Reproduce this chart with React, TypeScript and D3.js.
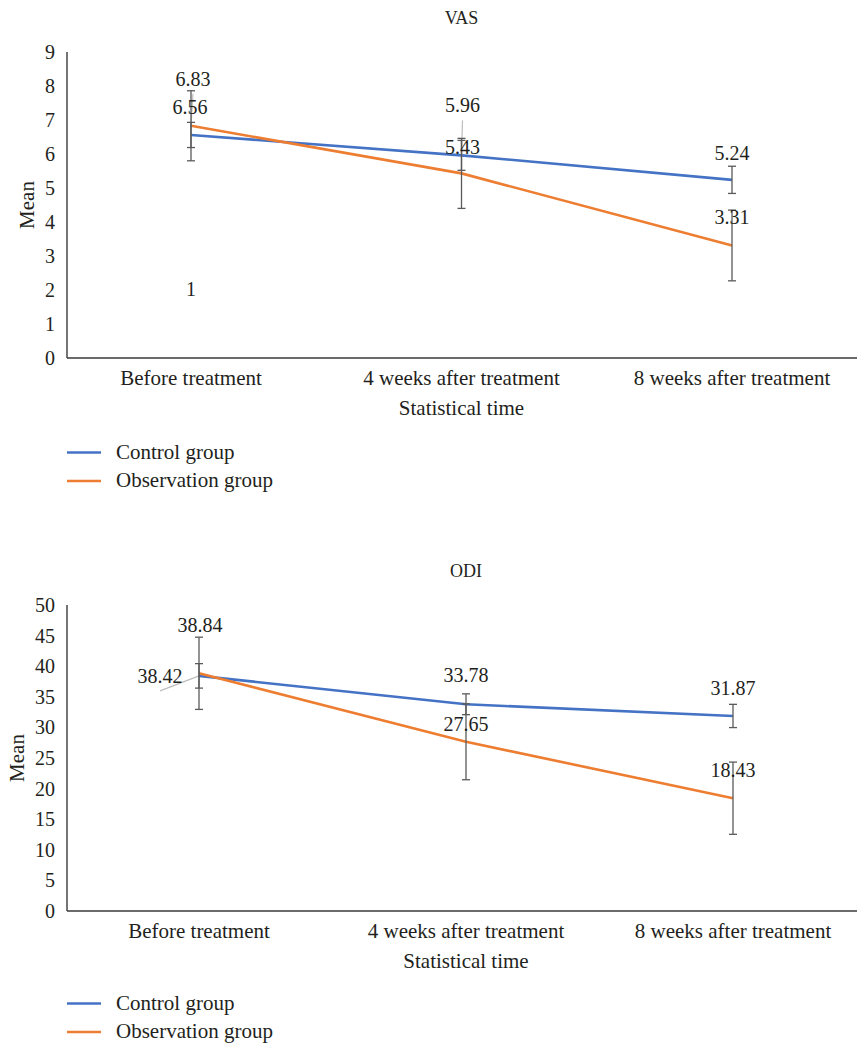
import React from "react";
import * as d3 from "d3";

const categories = ["Before treatment", "4 weeks after treatment", "8 weeks after treatment"];
const seriesNames = ["Control group", "Observation group"];
const seriesColors = ["#4472C4", "#ED7D31"];

// VAS
const vasControl = [6.56, 5.96, 5.24];
const vasObservation = [6.83, 5.43, 3.31];
const vasControlErr = [0.37, 0.44, 0.4];
const vasObservationErr = [1.03, 1.03, 1.04];
const vasTicks = [0, 1, 2, 3, 4, 5, 6, 7, 8, 9];
// label offsets (px) relative to the point: [dx, dy]
const vasControlLabelOff = [[-1, -28], [1, -50], [0, -27]];
const vasObservationLabelOff = [[2, -47], [1, -26], [0, -28]];
const vasControlLeader = [false, true, false];
const vasObservationLeader = [true, false, false];
const vasExtraLabels = [{ category: "Before treatment", value: 2.03, text: "1" }];

// ODI
const odiControl = [38.42, 33.78, 31.87];
const odiObservation = [38.84, 27.65, 18.43];
const odiControlErr = [2.0, 1.7, 1.9];
const odiObservationErr = [5.9, 6.2, 5.9];
const odiTicks = [0, 5, 10, 15, 20, 25, 30, 35, 40, 45, 50];
const odiControlLabelOff = [[-39, 0], [0, -29], [0, -28]];
const odiObservationLabelOff = [[1, -48], [0, -18], [0, -28]];
const odiControlLeader = [true, false, false];
const odiObservationLeader = [false, false, false];

const FONT = "'Liberation Serif', 'Times New Roman', serif";
const TXT = "#231f20";
const WORD = 21;
const NUM = 20;

type PanelProps = {
  title: string;
  top: number;
  yMax: number;
  ticks: number[];
  series: number[][];
  errs: number[][];
  labelOffs: number[][][];
  leaders: boolean[][];
  extra?: { category: string; value: number; text: string }[];
  markRange: [number, number];
  meanX: number;
  legendGap: number;
};

function Panel(p: PanelProps) {
  const axisLeft = 67;
  const axisRight = 857;
  const plotTop = p.top + 34;
  const plotBottom = p.top + 340;
  const y = d3.scaleLinear().domain([0, p.yMax]).range([plotBottom, plotTop]);
  const x = d3.scalePoint<string>().domain(categories).range(p.markRange);
  const line = d3
    .line<number>()
    .x((_, i) => x(categories[i]) as number)
    .y((d) => y(d));
  const midX = (p.markRange[0] + p.markRange[1]) / 2;
  return (
    <g fontFamily={FONT} fill={TXT}>
      <text x={midX} y={p.top} fontSize={18} textAnchor="middle" dominantBaseline="central">
        {p.title}
      </text>
      {/* axes */}
      <line x1={axisLeft} x2={axisLeft} y1={plotTop} y2={plotBottom} stroke="#3a3a3a" strokeWidth={1.4} />
      <line x1={axisLeft} x2={axisRight} y1={plotBottom} y2={plotBottom} stroke="#3a3a3a" strokeWidth={1.4} />
      {p.ticks.map((t) => (
        <text key={t} x={55} y={y(t)} fontSize={NUM} textAnchor="end" dominantBaseline="central">
          {t}
        </text>
      ))}
      {categories.map((c) => (
        <text key={c} x={x(c)} y={plotBottom + 20} fontSize={WORD} textAnchor="middle" dominantBaseline="central">
          {c}
        </text>
      ))}
      <text x={midX} y={plotBottom + 50} fontSize={WORD} textAnchor="middle" dominantBaseline="central">
        Statistical time
      </text>
      <text
        transform={`translate(${p.meanX},${(plotTop + plotBottom) / 2}) rotate(-90)`}
        fontSize={WORD}
        textAnchor="middle"
        dominantBaseline="central"
      >
        Mean
      </text>
      {/* series lines */}
      {p.series.map((s, si) => (
        <path key={si} d={line(s) as string} fill="none" stroke={seriesColors[si]} strokeWidth={2.6} />
      ))}
      {/* leader lines */}
      {p.series.map((s, si) =>
        s.map((v, i) => {
          if (!p.leaders[si][i]) return null;
          const px = x(categories[i]) as number;
          const py = y(v);
          const [dx, dy] = p.labelOffs[si][i];
          const sx = dx !== 0 ? px + dx : px + 1;
          const sy = dx !== 0 ? py + dy + 15 : py + dy + 17;
          return <line key={`ld${si}-${i}`} x1={sx} y1={sy} x2={px} y2={py} stroke="#bdbdbd" strokeWidth={1.2} />;
        })
      )}
      {/* error bars */}
      {p.series.map((s, si) =>
        s.map((v, i) => {
          const px = x(categories[i]) as number;
          const e = p.errs[si][i];
          const y1 = y(v + e);
          const y2 = y(v - e);
          return (
            <g key={`eb${si}-${i}`} stroke="#5a5a5a" strokeWidth={1.3}>
              <line x1={px} x2={px} y1={y1} y2={y2} />
              <line x1={px - 4} x2={px + 4} y1={y1} y2={y1} />
              <line x1={px - 4} x2={px + 4} y1={y2} y2={y2} />
            </g>
          );
        })
      )}
      {/* data labels */}
      {p.series.map((s, si) =>
        s.map((v, i) => {
          const px = x(categories[i]) as number;
          const [dx, dy] = p.labelOffs[si][i];
          return (
            <text key={`lb${si}-${i}`} x={px + dx} y={y(v) + dy} fontSize={NUM} textAnchor="middle" dominantBaseline="central">
              {v.toFixed(2)}
            </text>
          );
        })
      )}
      {(p.extra || []).map((e, k) => (
        <text key={`ex${k}`} x={x(e.category)} y={y(e.value)} fontSize={NUM} textAnchor="middle" dominantBaseline="central">
          {e.text}
        </text>
      ))}
      {/* legend */}
      {seriesNames.map((n, si) => {
        const ly = plotBottom + p.legendGap + si * 28.5;
        return (
          <g key={n}>
            <line x1={67} x2={101} y1={ly} y2={ly} stroke={seriesColors[si]} strokeWidth={2.6} />
            <text x={116} y={ly + 6} fontSize={WORD}>
              {n}
            </text>
          </g>
        );
      })}
    </g>
  );
}

export default function App() {
  return (
    <svg width={857} height={1044} style={{ position: "absolute", left: 0, top: 0, background: "#fff" }}>
      <rect width={857} height={1044} fill="#fff" />
      <Panel
        title="VAS"
        top={18}
        yMax={9}
        ticks={vasTicks}
        series={[vasControl, vasObservation]}
        errs={[vasControlErr, vasObservationErr]}
        labelOffs={[vasControlLabelOff, vasObservationLabelOff]}
        leaders={[vasControlLeader, vasObservationLeader]}
        extra={vasExtraLabels}
        markRange={[191, 732]}
        meanX={27}
        legendGap={94.5}
      />
      <Panel
        title="ODI"
        top={571}
        yMax={50}
        ticks={odiTicks}
        series={[odiControl, odiObservation]}
        errs={[odiControlErr, odiObservationErr]}
        labelOffs={[odiControlLabelOff, odiObservationLabelOff]}
        leaders={[odiControlLeader, odiObservationLeader]}
        markRange={[199, 733]}
        meanX={17}
        legendGap={92.5}
      />
    </svg>
  );
}
